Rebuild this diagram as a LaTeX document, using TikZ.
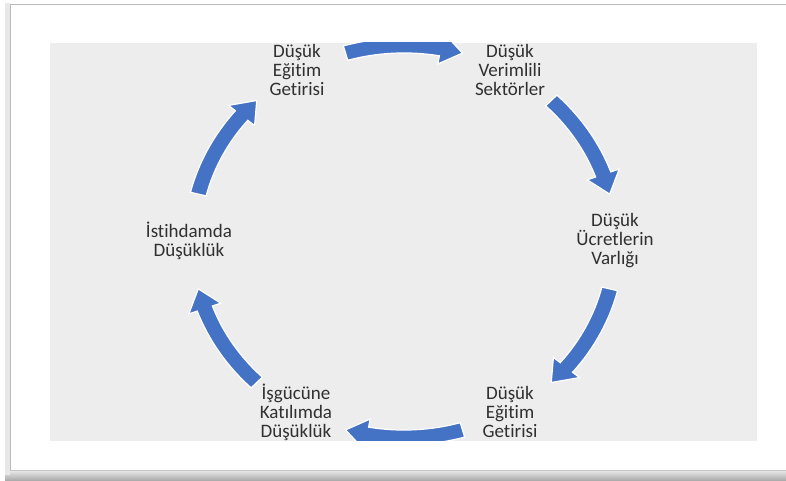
\documentclass[tikz,border=0pt]{standalone}
\usepackage{fontspec}
\setmainfont{Carlito}[Ligatures={NoCommon,NoContextual,NoRare}]
\usetikzlibrary{calc}
\definecolor{cycblue}{RGB}{68,114,196}
\definecolor{panel}{RGB}{237,237,237}
\definecolor{txt}{RGB}{48,48,48}
\begin{document}
\begin{tikzpicture}[x=1pt,y=1pt,
  lbl/.style={align=center, inner sep=0pt, text=txt, font=\fontsize{19}{19}\selectfont},
  cyc/.style={fill=cycblue, draw=white, line width=1.2pt, line join=miter}]
\useasboundingbox (0,0) rectangle (786,481);
% frame with shadow
\shade[top color=gray!20, bottom color=gray!70] (5,0) rectangle (786,10);
\fill[gray!18] (5,6) rectangle (10,478);
\fill[white] (10,10) rectangle (790,477);
\draw[gray!55, line width=1.4pt] (10.7,10) -- (10.7,476.3) -- (790,476.3);
\draw[gray!45, line width=1pt] (10,10.5) -- (790,10.5);
% panel
\fill[panel] (50,40) rectangle (757,438);
\begin{scope}
\clip (50,40) rectangle (757,438);
\coordinate (c) at (404,239.5);
\foreach \m in {90,30,-30,-90,-150,150}{
  \pgfmathsetmacro\ta{\m+16}
  \pgfmathsetmacro\tb{\m-10}
  \pgfmathsetmacro\te{\m-16}
  \path[cyc] ($(c)+(\ta:220.06 and 203.45)$)
    arc[start angle=\ta, end angle=\tb, x radius=220.06, y radius=203.45]
    -- ($(c)+(\tb:228.96 and 211.68)$)
    -- ($(c)+(\te:212 and 196)$)
    -- ($(c)+(\tb:195.04 and 180.32)$)
    -- ($(c)+(\tb:203.94 and 188.55)$)
    arc[start angle=\tb, end angle=\ta, x radius=203.94, y radius=188.55]
    -- cycle;
}
\end{scope}
% labels
\node[lbl] (n1) at (297,411) {Düşük\\Eğitim\\Getirisi};
\node[lbl] (n2) at (510,411) {Düşük\\Verimlili\\Sektörler};
\node[lbl] (n3) at (615,240) {Düşük\\Ücretlerin\\Varlığı};
\node[lbl] (n4) at (510,69) {Düşük\\Eğitim\\Getirisi};
\node[lbl] (n5) at (296,69) {İşgücüne\\Katılımda\\Düşüklük};
\node[lbl] (n6) at (189,240) {İstihdamda\\Düşüklük};
\end{tikzpicture}
\end{document}
